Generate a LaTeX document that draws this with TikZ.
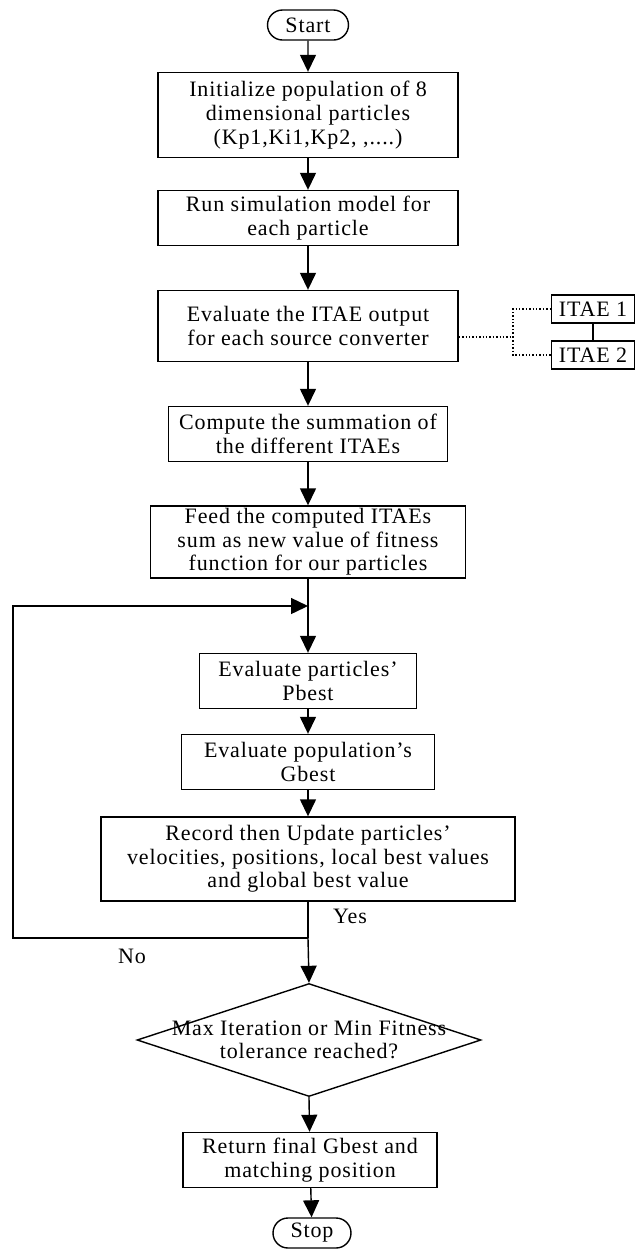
\documentclass[tikz,border=0pt]{standalone}
\usepackage{fontspec}
\setmainfont{Liberation Serif}[LetterSpace=4]
\usetikzlibrary{arrows.meta, shapes.geometric, shapes.misc}
\tikzset{>={Triangle[length=8.5pt,width=8pt]}}
\tikzset{
  box/.style={draw, line width=0.7pt, align=center, inner sep=1pt,
    font=\fontsize{11}{11.8}\selectfont},
  term/.style={draw, rounded rectangle, line width=0.7pt, inner sep=1pt,
    font=\fontsize{11}{11.8}\selectfont},
  decision/.style={draw, diamond, line width=0.7pt, inner sep=0pt},
  lbl/.style={align=center, inner sep=0pt, font=\fontsize{11}{11.8}\selectfont},
  flow/.style={->, line width=0.7pt},
}

\begin{document}
\begin{tikzpicture}[x=0.5pt, y=-0.5pt]
\useasboundingbox (0,0) rectangle (638,1250);

% main column
\node[term, minimum width=42.5pt, minimum height=15pt] (start) at (308,25) {Start};
\node[box, minimum width=150pt, minimum height=42.5pt] (init) at (308,115)
  {Initialize population of 8\\dimensional particles\\(Kp1,Ki1,Kp2, ,....)};
\node[box, minimum width=150pt, minimum height=27.5pt] (simrun) at (308,218)
  {Run simulation model for\\each particle};
\node[box, minimum width=150pt, minimum height=35.5pt] (itae) at (308,326)
  {Evaluate the ITAE output\\for each source converter};
\node[box, minimum width=139.5pt, minimum height=27.5pt] (sumitae) at (308,434)
  {Compute the summation of\\the different ITAEs};
\node[box, minimum width=157.5pt, minimum height=36pt] (feed) at (308,542)
  {Feed the computed ITAEs\\sum as new value of fitness\\function for our particles};
\node[box, minimum width=108.5pt, minimum height=27.5pt] (pbest) at (308,681)
  {Evaluate particles'\\Pbest};
\node[box, minimum width=126.5pt, minimum height=27.5pt] (gbest) at (308,762)
  {Evaluate population's\\Gbest};
\node[box, minimum width=207pt, minimum height=42pt] (update) at (308,859)
  {Record then Update particles'\\velocities, positions, local best values\\and global best value};
\node[decision, minimum width=172pt, minimum height=56.5pt] (check) at (309,1040) {};
\node[lbl] (checktext) at (check.center) {Max Iteration or Min Fitness\\tolerance reached?};
\node[box, minimum width=127pt, minimum height=27.5pt] (result) at (310,1160)
  {Return final Gbest and\\matching position};
\node[term, minimum width=41pt, minimum height=15pt] (stop) at (312,1233) {Stop};

% side boxes
\node[box, minimum width=41.5pt, minimum height=14pt] (itaeA) at (593,309) {ITAE 1};
\node[box, minimum width=41.5pt, minimum height=14pt] (itaeB) at (593,355) {ITAE 2};

% labels
\node[lbl] (yes) at (350,916) {Yes};
\node[lbl] (no) at (132,956) {No};

% helper points
\coordinate (join) at (308,606);
\coordinate (split) at (308,938);
\coordinate (loopB) at (13,938);
\coordinate (loopT) at (13,606);
\coordinate (fork) at (513,337);

% connectors
\draw[flow] (start) -- (init);
\draw[flow] (init) -- (simrun);
\draw[flow] (simrun) -- (itae);
\draw[flow] (itae) -- (sumitae);
\draw[flow] (sumitae) -- (feed);
\draw[flow] (feed) -- (pbest);
\draw[flow] (pbest) -- (gbest);
\draw[flow] (gbest) -- (update);
\draw[line width=0.7pt] (update.south) -- (split);
\draw[flow] (split) -- (check.north);
\draw[flow] (split) -- (loopB) -- (loopT) -- (join);
\draw[flow] (check.south) -- (result);
\draw[flow] (result) -- (stop);

\draw[densely dotted, line width=0.7pt] ([yshift=-5.5pt]itae.east) -- (fork);
\draw[densely dotted, line width=0.7pt] (fork) |- (itaeA.west);
\draw[densely dotted, line width=0.7pt] (fork) |- (itaeB.west);
\draw[line width=0.7pt] (itaeA) -- (itaeB);
\end{tikzpicture}
\end{document}
